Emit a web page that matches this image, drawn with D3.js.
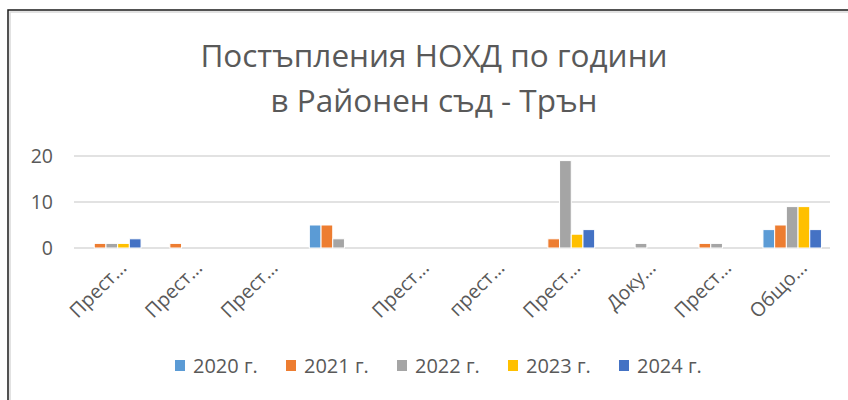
<!DOCTYPE html>
<html>
<head>
<meta charset="utf-8">
<script src="https://cdn.jsdelivr.net/npm/d3@7"></script>
<style>
  body { margin: 0; background: #fff; }
  svg text { font-family: "Open Sans", "Noto Sans", sans-serif; fill: #595959; }
</style>
</head>
<body>
<div id="chart"></div>
<script>
// data
var categories = ["Прест…", "Прест…", "Прест…", "", "Прест…", "прест…", "Прест…", "Доку…", "Прест…", "Общо…"];
var years = ["2020 г.", "2021 г.", "2022 г.", "2023 г.", "2024 г."];
var v2020 = [0, 0, 0, 5, 0, 0, 0, 0, 0, 4];
var v2021 = [1, 1, 0, 5, 0, 0, 2, 0, 1, 5];
var v2022 = [1, 0, 0, 2, 0, 0, 19, 1, 1, 9];
var v2023 = [1, 0, 0, 0, 0, 0, 3, 0, 0, 9];
var v2024 = [2, 0, 0, 0, 0, 0, 4, 0, 0, 4];
var yTicks = [0, 10, 20];
var colors = ["#5b9bd5", "#ed7d31", "#a5a5a5", "#ffc000", "#4472c4"];

var series = [v2020, v2021, v2022, v2023, v2024];
var width = 848, height = 400;

var svg = d3.select("#chart").append("svg")
  .attr("width", width)
  .attr("height", height);

// chart border like the excel frame
svg.append("rect")
  .attr("x", 10).attr("y", 12)
  .attr("width", width).attr("height", height)
  .attr("fill", "none").attr("stroke", "#d9d9d9").attr("stroke-width", 1.5);
svg.append("rect")
  .attr("x", 8).attr("y", 10)
  .attr("width", width).attr("height", height)
  .attr("fill", "none").attr("stroke", "#1a1a1a").attr("stroke-width", 1.5);

// title
var title = svg.append("text")
  .attr("text-anchor", "middle")
  .style("font-size", "31.5px");
title.append("tspan").attr("x", 434).attr("y", 67).text("Постъпления НОХД по години");
title.append("tspan").attr("x", 434).attr("y", 112).text("в Районен съд - Трън");

var plotLeft = 74, plotRight = 830, plotTop = 156, plotBottom = 248;

var x0 = d3.scaleBand()
  .domain(d3.range(categories.length))
  .range([plotLeft, plotRight]);

var gw = 58.5;
var x1 = d3.scaleBand()
  .domain(years)
  .range([(x0.bandwidth() - gw) / 2, (x0.bandwidth() + gw) / 2]);

var y = d3.scaleLinear()
  .domain([0, 20])
  .range([plotBottom, plotTop]);

// gridlines
svg.append("g")
  .selectAll("line")
  .data(yTicks)
  .enter().append("line")
    .attr("x1", plotLeft).attr("x2", plotRight)
    .attr("y1", function(d) { return y(d); })
    .attr("y2", function(d) { return y(d); })
    .attr("stroke", "#d9d9d9")
    .attr("stroke-width", 1.5);

// y axis labels
var yAxis = svg.append("g")
  .attr("transform", "translate(" + 63 + ",0)")
  .call(d3.axisLeft(y).tickValues(yTicks).tickSize(0).tickPadding(10));
yAxis.select(".domain").remove();
yAxis.selectAll("text")
  .style("font-size", "19.5px")
  .attr("fill", "#595959");

// bars
var groups = svg.append("g")
  .selectAll("g")
  .data(categories.map(function(c, i) { return i; }))
  .enter().append("g")
    .attr("transform", function(i) { return "translate(" + x0(i) + ",0)"; });

groups.selectAll("rect")
  .data(function(i) {
    return series.map(function(s, k) { return { year: years[k], value: s[i], k: k }; });
  })
  .enter().append("rect")
    .attr("x", function(d) { return x1(d.year); })
    .attr("width", x1.bandwidth())
    .attr("y", function(d) { return y(d.value); })
    .attr("height", function(d) { return y(0) - y(d.value); })
    .attr("fill", function(d) { return colors[d.k]; })
    .attr("stroke", function(d) { return d.value > 0 ? "#fff" : "none"; })
    .attr("stroke-width", 1);

// x labels, rotated
var xAxis = svg.append("g")
  .attr("transform", "translate(0," + plotBottom + ")")
  .call(d3.axisBottom(x0).tickFormat(function(i) { return categories[i]; }).tickSize(0));
xAxis.select(".domain").remove();
xAxis.selectAll("text")
  .style("font-size", "19.5px")
  .attr("fill", "#595959")
  .attr("text-anchor", "end")
  .attr("y", 0).attr("dy", 0)
  .attr("transform", "translate(16,21)rotate(-45)");

// legend
var legend = svg.append("g")
  .selectAll("g")
  .data(years)
  .enter().append("g")
    .attr("transform", function(d, i) { return "translate(" + (175 + i * 111) + ",360)"; });
legend.append("rect")
  .attr("width", 10).attr("height", 11)
  .attr("fill", function(d, i) { return colors[i]; });
legend.append("text")
  .attr("x", 18).attr("y", 13)
  .style("font-size", "20px")
  .text(function(d) { return d; });
</script>
</body>
</html>
